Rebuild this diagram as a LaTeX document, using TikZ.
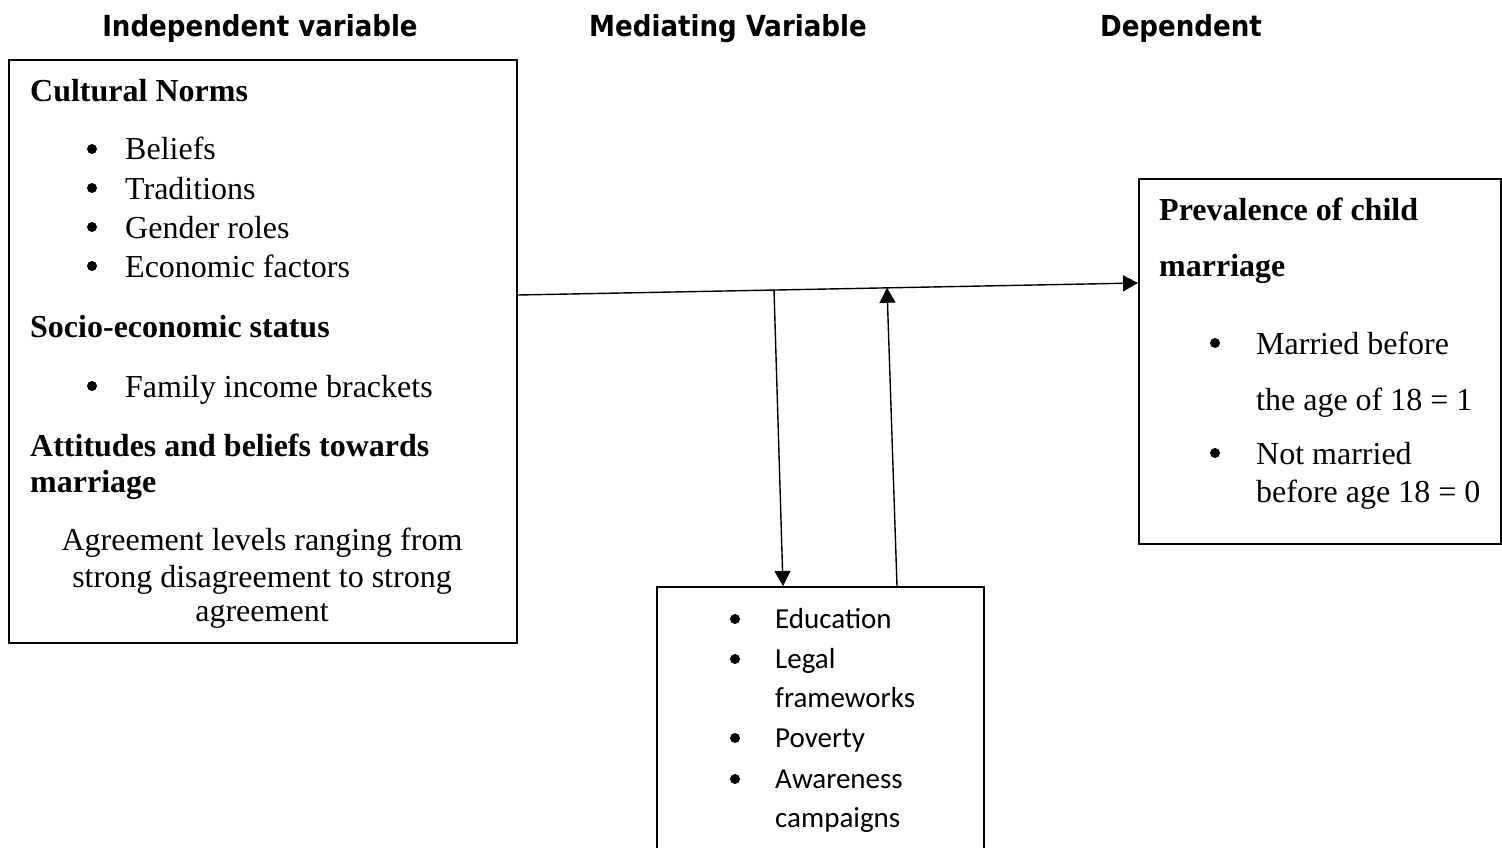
\documentclass[tikz,border=0pt]{standalone}
\usepackage{fontspec}
\setmainfont{Liberation Serif}
\newfontfamily\headfont{DejaVu Sans Condensed}
\newfontfamily\calfont{Carlito}
\usetikzlibrary{arrows.meta}
\begin{document}
\begin{tikzpicture}[x=1pt,y=-1pt,
  box/.style={draw, line width=2pt, rectangle, inner sep=0pt, anchor=north west},
  conn/.style={line width=1.4pt, -{Triangle[length=15pt,width=16pt]}},
  txt/.style={anchor=base west, inner sep=0pt, font=\fontsize{32}{38}\selectfont},
  btxt/.style={anchor=base west, inner sep=0pt, font=\fontsize{32}{38}\selectfont\bfseries},
  ctxt/.style={anchor=base, inner sep=0pt, font=\fontsize{32}{38}\selectfont},
  head/.style={anchor=base, inner sep=0pt, font=\headfont\bfseries\fontsize{29}{35}\selectfont},
  mtxt/.style={anchor=base west, inner sep=0pt, font=\calfont\fontsize{29}{35}\selectfont},
  dot/.style={circle, fill=black, inner sep=0pt, minimum size=10pt}]
\useasboundingbox (0,0) rectangle (1502,848);
\clip (0,0) rectangle (1502,848);
% headers
\node[head] (h1) at (260,37) {Independent variable};
\node[head] (h2) at (728,37) {Mediating Variable};
\node[head] (h3) at (1181,37) {Dependent};
% boxes
\node[box, minimum width=508pt, minimum height=583pt] (ind) at (8,59) {};
\node[box, minimum width=362pt, minimum height=365pt] (dep) at (1138,178) {};
\node[box, minimum width=327pt, minimum height=320pt] (med) at (656,586) {};
% left box text
\node[btxt] (t1) at (30,102) {Cultural Norms};
\node[dot] (b1) at (92,149) {}; \node[txt] (t2) at (125,160) {Beliefs};
\node[dot] (b2) at (92,188) {}; \node[txt] (t3) at (125,199) {Traditions};
\node[dot] (b3) at (92,227) {}; \node[txt] (t4) at (125,238) {Gender roles};
\node[dot] (b4) at (92,266) {}; \node[txt] (t5) at (125,277) {Economic factors};
\node[btxt] (t6) at (30,337) {Socio-economic status};
\node[dot] (b5) at (92,386) {}; \node[txt] (t7) at (125,397) {Family income brackets};
\node[btxt] (t8) at (30,456) {Attitudes and beliefs towards};
\node[btxt] (t9) at (30,492) {marriage};
\node[ctxt] (t10) at (262,550) {Agreement levels ranging from};
\node[ctxt] (t11) at (262,587) {strong disagreement to strong};
\node[ctxt] (t12) at (262,621) {agreement};
% right box text
\node[btxt] (r1) at (1159,220) {Prevalence of child};
\node[btxt] (r2) at (1159,276) {marriage};
\node[dot] (rb1) at (1215,343) {}; \node[txt] (r3) at (1256,354) {Married before};
\node[txt] (r4) at (1256,410) {the age of 18 = 1};
\node[dot] (rb2) at (1215,453) {}; \node[txt] (r5) at (1256,464) {Not married};
\node[txt] (r6) at (1256,502) {before age 18 = 0};
% middle box text
\node[dot] (mb1) at (735,619) {}; \node[mtxt] (m1) at (775,628) {Education};
\node[dot] (mb2) at (735,659) {}; \node[mtxt] (m2) at (775,668) {Legal};
\node[mtxt] (m3) at (775,707) {frameworks};
\node[dot] (mb3) at (735,738) {}; \node[mtxt] (m4) at (775,747) {Poverty};
\node[dot] (mb4) at (735,779) {}; \node[mtxt] (m5) at (775,788) {Awareness};
\node[mtxt] (m6) at (775,827) {campaigns};
% connectors
\coordinate (d1) at (774,290);
\coordinate (u1) at (887,287.8);
\draw[conn] ([yshift=-236pt]ind.north east) -- ([yshift=-105pt]dep.north west);
\draw[conn] (d1) -- ([xshift=127pt]med.north west);
\draw[conn] ([xshift=241pt]med.north west) -- (u1);
\end{tikzpicture}
\end{document}
